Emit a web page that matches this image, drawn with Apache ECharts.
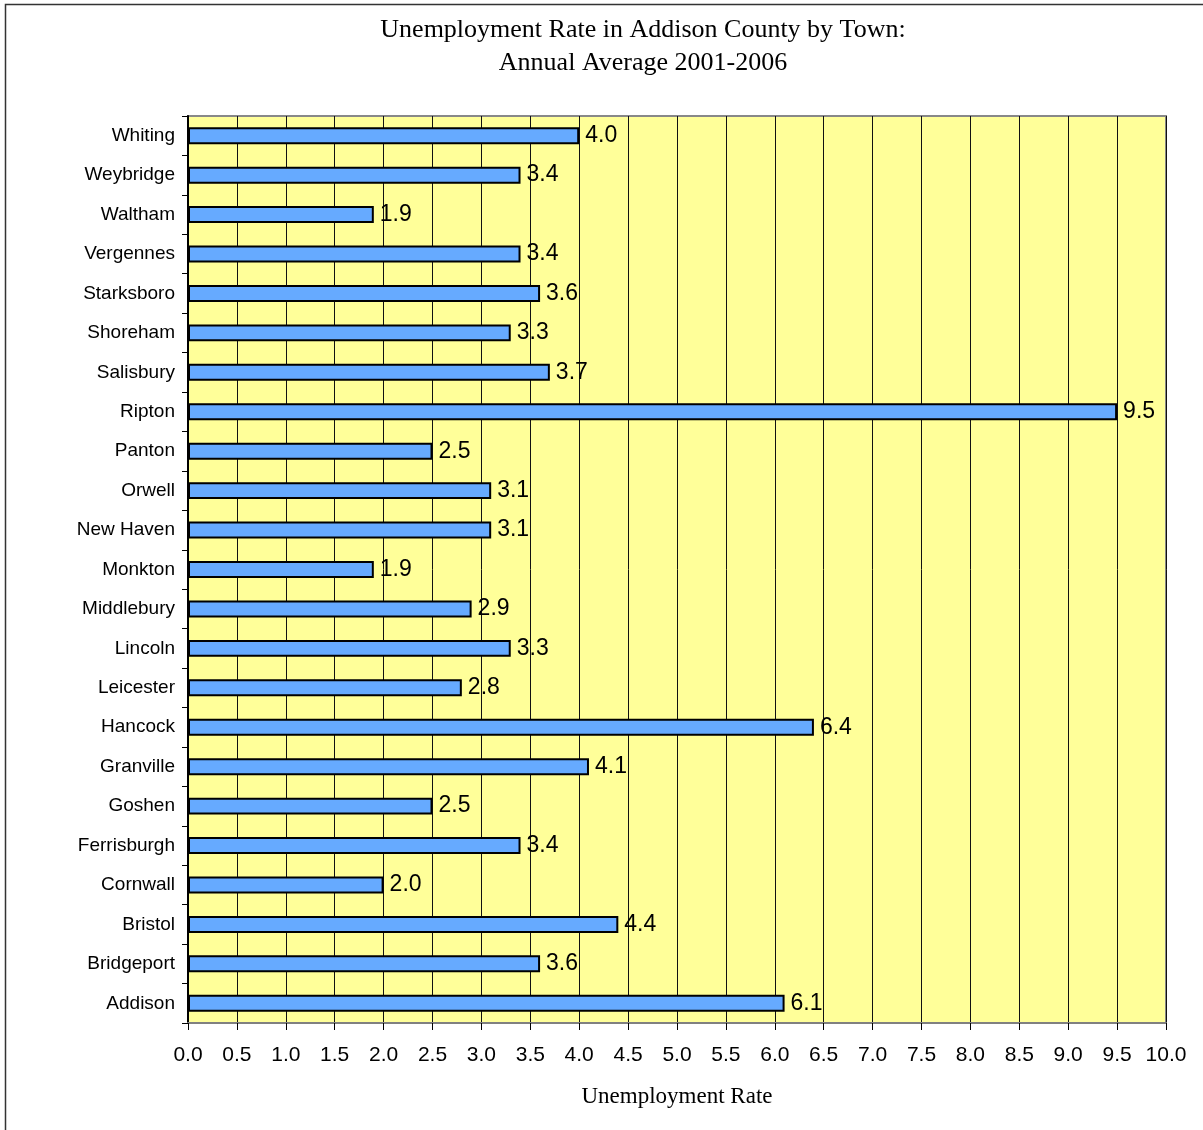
<!DOCTYPE html>
<html>
<head>
<meta charset="utf-8">
<script src="https://cdn.jsdelivr.net/npm/echarts@6/dist/echarts.min.js"></script>
<style>
  html, body { margin: 0; padding: 0; background: #ffffff; }
  #chart { width: 1203px; height: 1130px; }
</style>
</head>
<body>
<div id="chart"></div>
<script>
// Towns, listed bottom to top as they appear on the category axis
const towns = [
  'Addison', 'Bridgeport', 'Bristol', 'Cornwall', 'Ferrisburgh', 'Goshen',
  'Granville', 'Hancock', 'Leicester', 'Lincoln', 'Middlebury', 'Monkton',
  'New Haven', 'Orwell', 'Panton', 'Ripton', 'Salisbury', 'Shoreham',
  'Starksboro', 'Vergennes', 'Waltham', 'Weybridge', 'Whiting'
];
// Annual average unemployment rate 2001-2006 (%)
const rates = [
  6.1, 3.6, 4.4, 2.0, 3.4, 2.5,
  4.1, 6.4, 2.8, 3.3, 2.9, 1.9,
  3.1, 3.1, 2.5, 9.5, 3.7, 3.3,
  3.6, 3.4, 1.9, 3.4, 4.0
];
const xMin = 0, xMax = 10, xStep = 0.5;

const chart = echarts.init(document.getElementById('chart'), null, { renderer: 'canvas' });

const sans = '"Liberation Sans", Arial, sans-serif';
const serif = '"Liberation Serif", "Times New Roman", serif';

chart.setOption({
  backgroundColor: '#ffffff',
  animation: false,
  graphic: [{
    type: 'rect',
    shape: { x: 5.5, y: 4.5, width: 1220, height: 1140 },
    style: { fill: 'none', stroke: '#333333', lineWidth: 1.5 },
    silent: true,
    z: -10
  }],
  title: {
    text: 'Unemployment Rate in Addison County by Town:\nAnnual Average 2001-2006',
    left: 638,
    top: 9,
    textAlign: 'center',
    textStyle: {
      fontFamily: serif,
      fontSize: 26,
      fontWeight: 'normal',
      color: '#000000',
      lineHeight: 33
    }
  },
  grid: {
    left: 188,
    top: 116,
    right: 37,
    bottom: 107,
    show: true,
    backgroundColor: '#FFFF99',
    borderColor: '#888888',
    borderWidth: 2
  },
  xAxis: {
    type: 'value',
    min: xMin,
    max: xMax,
    interval: xStep,
    name: 'Unemployment Rate',
    nameLocation: 'middle',
    nameGap: 62,
    nameTextStyle: { fontFamily: serif, fontSize: 23, color: '#000000' },
    axisLine: { show: true, lineStyle: { color: '#808080', width: 2 } },
    axisTick: { show: true, length: 7, lineStyle: { color: '#000000', width: 1 } },
    axisLabel: {
      margin: 22,
      fontFamily: sans,
      fontSize: 21,
      color: '#000000',
      formatter: v => v.toFixed(1)
    },
    splitLine: { show: true, lineStyle: { color: '#111111', width: 1 } }
  },
  yAxis: {
    type: 'category',
    data: towns,
    axisLine: { show: true, lineStyle: { color: '#000000', width: 2 } },
    axisTick: { show: true, length: 6, alignWithLabel: false, lineStyle: { color: '#000000', width: 1 } },
    axisLabel: {
      margin: 13,
      fontFamily: sans,
      fontSize: 19,
      color: '#000000'
    },
    splitLine: { show: false }
  },
  series: [{
    type: 'bar',
    data: rates,
    barCategoryGap: '57%',
    itemStyle: {
      color: '#66AAFF',
      borderColor: '#000000',
      borderWidth: 2
    },
    label: {
      show: true,
      position: 'right',
      distance: 6,
      fontFamily: sans,
      fontSize: 23,
      color: '#000000',
      formatter: p => p.value.toFixed(1)
    }
  }]
});
</script>
</body>
</html>
